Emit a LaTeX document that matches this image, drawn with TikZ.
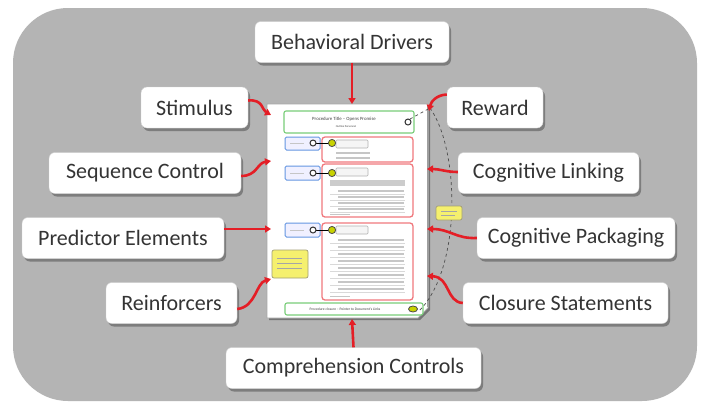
\documentclass[tikz,border=0pt]{standalone}
\usepackage{fontspec}
\setmainfont{Carlito}
\usetikzlibrary{arrows.meta,shadows,calc}
\definecolor{bggray}{RGB}{180,180,180}
\definecolor{txtgray}{RGB}{52,52,52}
\definecolor{arrred}{RGB}{228,30,38}
\definecolor{boxred}{RGB}{240,120,125}
\definecolor{boxgreen}{RGB}{120,205,120}
\definecolor{boxblue}{RGB}{100,150,225}
\definecolor{noteyel}{RGB}{245,240,110}
\definecolor{dotyel}{RGB}{200,210,0}
\tikzset{
  lbl/.style={draw=gray!35, fill=white, rounded corners=6pt, minimum height=41pt,
    inner sep=0pt, text=txtgray, font=\fontsize{22}{24}\selectfont,
    drop shadow={shadow xshift=2pt, shadow yshift=-3pt, fill=black, opacity=0.3}},
  redarrow/.style={draw=arrred, line width=2.6pt, -{Triangle[length=6pt,width=7pt]}},
  redbox/.style={draw=boxred, line width=1.3pt, rounded corners=3pt},
  bluebox/.style={draw=boxblue, line width=1pt, fill=blue!6, rounded corners=1.5pt},
  greenbox/.style={draw=boxgreen, line width=1.1pt, fill=white, rounded corners=2pt},
  tagbox/.style={draw=gray!60, line width=0.6pt, fill=gray!8, rounded corners=1pt},
  note/.style={draw=yellow!40!black!70, line width=0.7pt, fill=noteyel, rounded corners=2pt},
  rowline/.style={draw=gray!45, line width=1.3pt},
  darkdot/.style={draw=black!80, line width=1pt, fill=white},
  yeldot/.style={draw=black!70, line width=0.8pt, fill=dotyel},
  tiny/.style={font=\fontsize{4.8}{5}\selectfont, text=black!75, inner sep=0pt}
}
\begin{document}
\begin{tikzpicture}[x=1pt,y=-1pt]
\useasboundingbox (0,0) rectangle (701,408);
% background
\fill[white] (0,0) rectangle (701,408);
\fill[bggray, rounded corners=55pt] (13,8) rectangle (697,401);

% page
\filldraw[draw=gray!70, line width=0.8pt, fill=white,
  drop shadow={shadow xshift=2pt, shadow yshift=-2pt, fill=black, opacity=0.35}]
  (267,104) -- (428,104) -- (428,308) -- (418,318) -- (267,318) -- cycle;
\draw[gray!75, line width=1.4pt] (428,105) -- (428,307);

% title box
\draw[greenbox] (284,111) rectangle (414,133);
\node[tiny] (ttl) at (344,119) {Procedure Title – Opens Promise};
\node[tiny, font=\fontsize{2.8}{3}\selectfont] (sub) at (346,127) {Outline Personnel};
\draw[darkdot] (408,122) circle (3);
\coordinate (ticon) at (410,119);

% block 1
\draw[redbox] (322,137) rectangle (413,162);
\draw[bluebox] (285,137) rectangle (320,150);
\draw[rowline, line width=0.8pt] (290,143.5) -- (304,143.5);
\draw[tagbox] (336,140) rectangle (368,148);
\draw[rowline] (336,153) -- (370,153);
\draw[rowline] (336,158) -- (370,158);
\draw[black, line width=1pt] (313,143) -- (332,143);
\draw[darkdot] (313,143) circle (3);
\draw[yeldot] (332,143) circle (3.6);

% block 2
\draw[redbox] (322,164) rectangle (413,217);
\draw[bluebox] (285,166) rectangle (320,180);
\draw[rowline, line width=0.8pt] (290,173) -- (304,173);
\draw[tagbox] (336,168) rectangle (368,176);
\fill[gray!40] (330,180) rectangle (405,186);
\foreach \yy in {191,197,203,209} {
  \draw[rowline] (338,\yy) -- (404,\yy);
  \draw[gray!30, line width=0.4pt] (330,\yy+3) -- (405,\yy+3);
}
\draw[rowline, line width=0.8pt] (330,214) -- (350,214);
\draw[black, line width=1pt] (313,173) -- (332,173);
\draw[darkdot] (313,173) circle (3);
\draw[yeldot] (332,173) circle (3.6);

% block 3
\draw[redbox] (322,223) rectangle (413,300);
\draw[bluebox] (285,223) rectangle (320,237);
\draw[rowline, line width=0.8pt] (290,230) -- (304,230);
\draw[tagbox] (336,226) rectangle (368,234);
\foreach \yy in {240,247,254,261,268,275,282,289} {
  \draw[rowline] (338,\yy) -- (404,\yy);
  \draw[gray!30, line width=0.4pt] (330,\yy+3.5) -- (405,\yy+3.5);
}
\draw[rowline, line width=0.8pt] (330,296) -- (350,296);
\draw[black, line width=1pt] (313,230) -- (332,230);
\draw[darkdot] (313,230) circle (3);
\draw[yeldot] (332,230) circle (3.6);

% notes
\draw[note] (272,250) rectangle (308,278);
\foreach \yy in {258,263,268} \draw[gray!70, line width=0.8pt] (277,\yy) -- (302,\yy);

% bottom box
\draw[greenbox] (285,303) rectangle (423,315);
\node[tiny, font=\fontsize{3.6}{4}\selectfont] (clo) at (345,309) {Procedure closure – Pointer to Document's Links};
\draw[yeldot] (413,309) ellipse (4.5 and 3);
\coordinate (bicon) at (418,312);

% dashed link
\draw[gray!60!black, dashed, line width=0.7pt] (ticon) -- (430,108);
\draw[gray!60!black, dashed, line width=0.7pt] (430,108) .. controls (460,150) and (462,270) .. (bicon);
\draw[note] (436,206) rectangle (462,220);
\draw[gray!70, line width=0.7pt] (441,211) -- (457,211);
\draw[gray!70, line width=0.7pt] (441,215) -- (455,215);

% labels
\node[lbl, minimum width=194pt] (bd) at (352,42) {Behavioral Drivers};
\node[lbl, minimum width=107pt] (stim) at (194.5,107.5) {Stimulus};
\node[lbl, minimum width=96pt] (rew) at (495,107.5) {Reward};
\node[lbl, minimum width=192pt] (seq) at (145,173) {Sequence Control};
\node[lbl, minimum width=181pt] (cl) at (548.5,173) {Cognitive Linking};
\node[lbl, minimum width=202pt] (pe) at (123,238) {Predictor Elements};
\node[lbl, minimum width=198pt] (cp) at (576,238) {Cognitive Packaging};
\node[lbl, minimum width=131pt] (rf) at (171.5,303) {Reinforcers};
\node[lbl, minimum width=205pt] (cs) at (565.5,303) {Closure Statements};
\node[lbl, minimum width=255pt] (cc) at (353.5,368) {Comprehension Controls};

% arrow targets on the page
\coordinate (pTop) at (352,104);
\coordinate (pBot) at (352,319);
\coordinate (pStim) at (271,115);
\coordinate (pSeq) at (271,161);
\coordinate (pPred) at (271,229);
\coordinate (pReinf) at (271,279);
\coordinate (pRew) at (429,111);
\coordinate (pLink) at (427,169);
\coordinate (pPack) at (427,229);
\coordinate (pClos) at (427,276);

% arrows
\draw[redarrow] (bd.south) -- (pTop);
\draw[redarrow] (cc.north) -- (pBot);
\draw[redarrow] ([yshift=7pt]stim.east) .. controls (263,99) and (262,110) .. (pStim);
\draw[redarrow] ([yshift=-3pt]seq.east) .. controls (257,176) and (257,163) .. (pSeq);
\draw[redarrow] ([yshift=9pt]pe.east) -- (pPred);
\draw[redarrow] ([yshift=-6pt]rf.east) .. controls (256,307) and (256,283) .. (pReinf);
\draw[redarrow] ([yshift=13pt]rew.west) .. controls (436,95) and (431,102) .. (pRew);
\draw[redarrow] ([yshift=1pt]cl.west) .. controls (446,172) and (440,169) .. (pLink);
\draw[redarrow] (cp.west) .. controls (456,239) and (450,229) .. (pPack);
\draw[redarrow] (cs.west) .. controls (446,302) and (450,277) .. (pClos);
\end{tikzpicture}
\end{document}
